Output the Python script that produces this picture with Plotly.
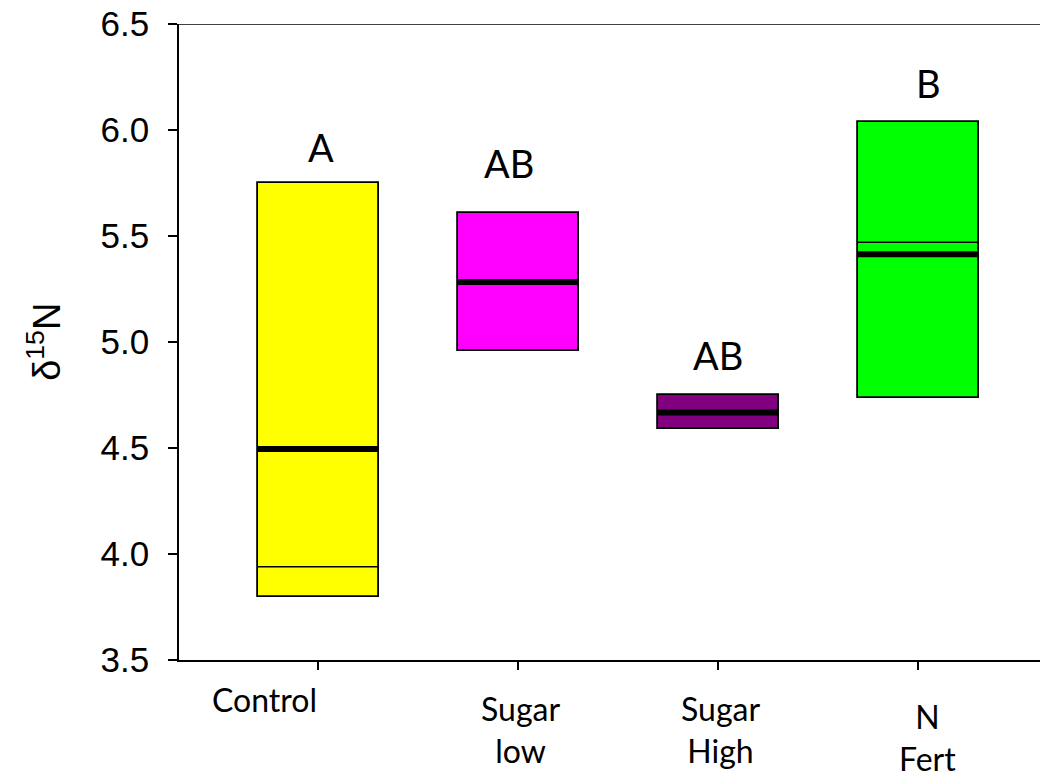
import plotly.graph_objects as go

# ---- data ----
categories = ["Control", "Sugar<br>low", "Sugar<br>High", "N<br>Fert"]
q1 = [3.795, 4.958, 4.59, 4.734]
q3 = [5.75, 5.607, 4.75, 6.036]
medians = [3.94, 5.28, 4.668, 5.47]
means = [4.495, 5.283, 4.668, 5.414]
letters = ["A", "AB", "AB", "B"]
colors = ["#FFFF00", "#FF00FF", "#800080", "#00FF00"]
y_ticks = [3.5, 4.0, 4.5, 5.0, 5.5, 6.0, 6.5]

xpos = list(range(len(categories)))
box_w = 0.605
hw = box_w / 2

fig = go.Figure()
fig.add_trace(go.Bar(
    x=xpos, base=q1, y=[b - a for a, b in zip(q1, q3)], width=box_w,
    marker=dict(color=colors, line=dict(color="black", width=1.8)),
    showlegend=False, hoverinfo="skip",
))

for i, (md, mn) in enumerate(zip(medians, means)):
    fig.add_shape(type="line", xref="x", yref="y", x0=i - hw, x1=i + hw, y0=md, y1=md,
                  line=dict(color="black", width=1.5))
    fig.add_shape(type="line", xref="x", yref="y", x0=i - hw, x1=i + hw, y0=mn, y1=mn,
                  line=dict(color="black", width=6))

# top frame line
fig.add_shape(type="line", xref="paper", yref="y", x0=0, x1=1, y0=6.5, y1=6.5,
              line=dict(color="black", width=1.5))

cat_font = dict(family="Lato", size=32, color="black")
# letters above boxes (layout positions)
letter_y = [5.92, 5.844, 4.939, 6.222]
letter_dx = [3, -9, 0, 10]
for i, (t, yy, dx) in enumerate(zip(letters, letter_y, letter_dx)):
    fig.add_annotation(x=i, y=yy, xref="x", yref="y", text=t, showarrow=False,
                       xshift=dx, font=dict(family="Lato", size=38, color="black"))

# category labels (layout positions)
cat_dx = [-54, 2, 2, 9]
cat_dy = [-39, -69, -69, -77]
for i, (t, dx, dy) in enumerate(zip(categories, cat_dx, cat_dy)):
    fig.add_annotation(x=i, y=0, xref="x", yref="paper", text=t, showarrow=False,
                       xshift=dx, yshift=dy, yanchor="middle", align="center",
                       borderpad=0, font=cat_font)

# y axis title
fig.add_annotation(x=-0.157, y=0.5, xref="paper", yref="paper",
                   text="δ<sup>15</sup>N", textangle=-90, showarrow=False,
                   xanchor="center", yanchor="middle",
                   font=dict(family="Liberation Sans", size=38, color="black"))

fig.update_layout(
    width=1045, height=776,
    margin=dict(l=179, r=5, t=24, b=116),
    plot_bgcolor="white", paper_bgcolor="white",
    xaxis=dict(range=[-0.695, 3.61], tickvals=xpos, showticklabels=False,
               ticks="outside", ticklen=8, tickwidth=1.5, tickcolor="black",
               showline=True, linecolor="black", linewidth=1.5,
               showgrid=False, zeroline=False, fixedrange=True),
    yaxis=dict(range=[3.5, 6.5], tickvals=y_ticks, tickformat=".1f",
               ticks="outside", ticklen=9, tickwidth=1.5, tickcolor="black",
               showline=True, linecolor="black", linewidth=1.5,
               showgrid=False, zeroline=False, ticklabelstandoff=12,
               tickfont=dict(family="Liberation Sans", size=35, color="black")),
    bargap=0,
)

fig.write_html("out.html", config={"displayModeBar": False},
               post_script="document.body.style.margin='0';document.body.style.overflow='hidden';")
